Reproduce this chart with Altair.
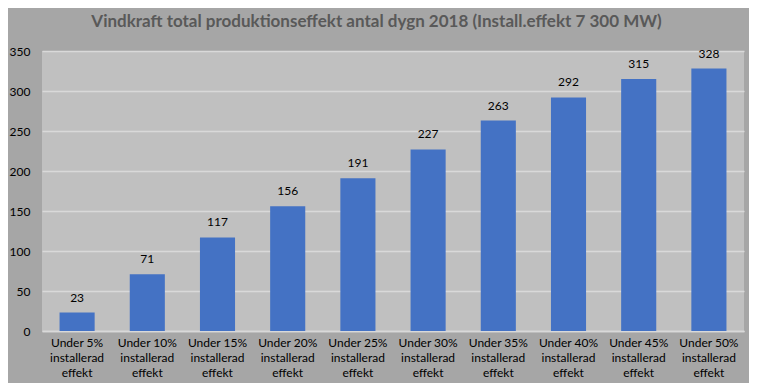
import altair as alt
import pandas as pd

categories = ["Under 5%|installerad|effekt", "Under 10%|installerad|effekt",
              "Under 15%|installerad|effekt", "Under 20%|installerad|effekt",
              "Under 25%|installerad|effekt", "Under 30%|installerad|effekt",
              "Under 35%|installerad|effekt", "Under 40%|installerad|effekt",
              "Under 45%|installerad|effekt", "Under 50%|installerad|effekt"]
values = [23, 71, 117, 156, 191, 227, 263, 292, 315, 328]
y_ticks = [0, 50, 100, 150, 200, 250, 300, 350]

df = pd.DataFrame({"cat": categories, "val": values})
FONT = "Lato"

base = alt.Chart(df).encode(
    x=alt.X("cat:N", sort=categories, title=None,
            scale=alt.Scale(paddingInner=0.5, paddingOuter=0.25),
            axis=alt.Axis(labelExpr="split(datum.label, '|')", labelAngle=0,
                          labelFont=FONT, labelFontSize=12, labelColor="#000000",
                          labelLineHeight=15, labelPadding=6, ticks=False,
                          domain=True, domainColor="#d9d9d9", domainWidth=1.5,
                          labelBaseline="top")),
    y=alt.Y("val:Q", title=None,
            scale=alt.Scale(domain=[0, 350], nice=False),
            axis=alt.Axis(values=y_ticks, labelFont=FONT, labelFontSize=12,
                          labelColor="#000000", labelPadding=12, ticks=False,
                          domain=False, grid=True, gridColor="#d9d9d9",
                          gridWidth=1.5)),
)

bars = base.mark_bar(color="#4472c4")
text = base.mark_text(baseline="bottom", dy=-8, font=FONT, fontSize=12,
                      color="#000000").encode(text="val:Q")

chart = (bars + text).properties(
    width=702, height=280,
    title=alt.TitleParams("Vindkraft total produktionseffekt antal dygn 2018 (Install.effekt 7 300 MW)",
                          font=FONT, fontSize=17, fontWeight="bold", color="#595959",
                          anchor="middle", frame="bounds", offset=14),
    background="#a6a6a6",
    padding={"left": 34, "top": 43, "right": 5, "bottom": 52},
    autosize=alt.AutoSizeParams(type="none"),
).configure_view(fill="#c0c0c0", stroke=None)

chart.save("out.html", embed_options={"renderer": "svg", "actions": False})
